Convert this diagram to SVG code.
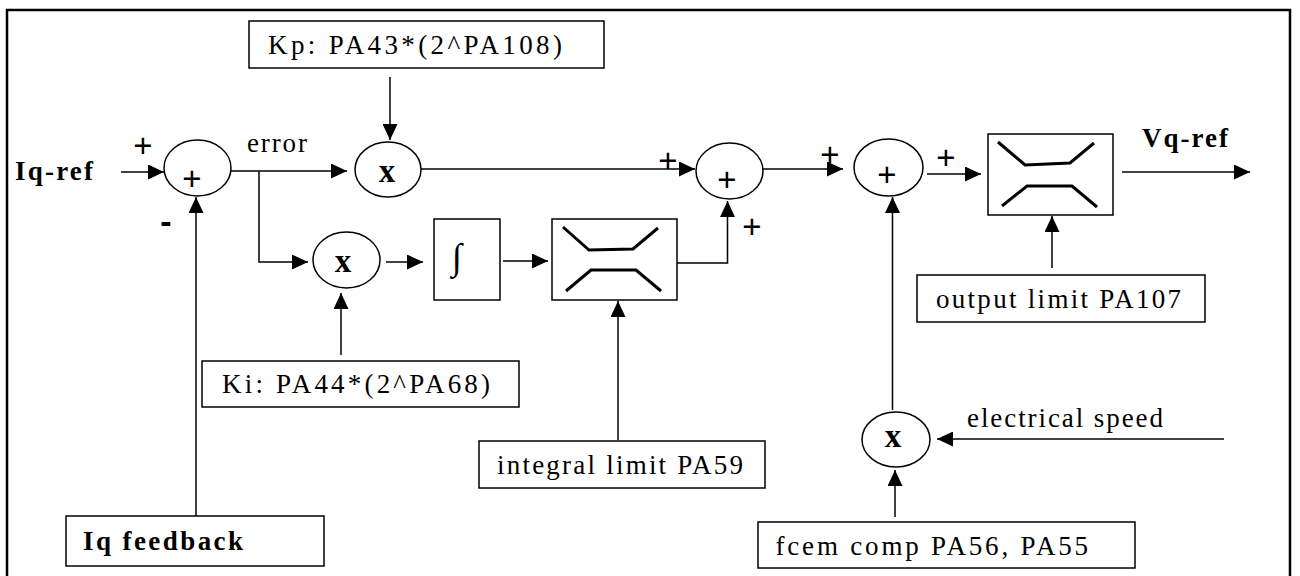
<svg xmlns="http://www.w3.org/2000/svg" width="1300" height="576" viewBox="0 0 1300 576">
<defs>
<marker id="ah" markerUnits="userSpaceOnUse" markerWidth="16" markerHeight="15" refX="16" refY="7.5" orient="auto"><path d="M0,0 L16,7.5 L0,15 z" fill="#000"/></marker>
</defs>
<style>
.ln{stroke:#000;stroke-width:1.5;fill:none}
.ar{marker-end:url(#ah)}
.box{fill:#fff;stroke:#000;stroke-width:1.5}
.el{fill:#fff;stroke:#000;stroke-width:1.5}
.t{font-family:"Liberation Serif","Times New Roman",serif;font-size:27px;fill:#000}
.b{font-weight:bold}
.pl{font-family:"Liberation Sans",Arial,sans-serif;font-size:33px;text-anchor:middle;fill:#000}
.mn{font-family:"Liberation Sans",Arial,sans-serif;font-size:34px;font-weight:bold;text-anchor:middle;fill:#000}
.x{font-family:"Liberation Serif","Times New Roman",serif;font-weight:bold;font-size:33px;text-anchor:middle;fill:#000}
.lim{stroke:#000;stroke-width:3;fill:none}
.frame{fill:none;stroke:#000;stroke-width:2.5}
</style>
<rect class="frame" x="7" y="10" width="1283" height="572"/>

<g id="connectors">
<line class="ln ar" x1="121" y1="172" x2="164" y2="172"/>
<line class="ln ar" x1="196" y1="516" x2="196" y2="197"/>
<line class="ln ar" x1="231" y1="171" x2="347" y2="171"/>
<polyline class="ln ar" points="259,171 259,262 308,262"/>
<line class="ln ar" x1="390" y1="77" x2="390" y2="140"/>
<line class="ln ar" x1="341" y1="355" x2="341" y2="293"/>
<line class="ln ar" x1="386" y1="262" x2="423" y2="262"/>
<line class="ln ar" x1="503" y1="261" x2="548" y2="261"/>
<line class="ln ar" x1="618" y1="440" x2="618" y2="301"/>
<polyline class="ln ar" points="677,263 727.5,263 727.5,201"/>
<line class="ln ar" x1="421" y1="169" x2="695" y2="169"/>
<line class="ln ar" x1="763" y1="169" x2="843" y2="169"/>
<line class="ln ar" x1="927" y1="174" x2="981" y2="174"/>
<line class="ln ar" x1="1122" y1="172" x2="1250" y2="172"/>
<line class="ln ar" x1="1052" y1="268" x2="1052" y2="216"/>
<line class="ln ar" x1="892.5" y1="410" x2="892.5" y2="197"/>
<line class="ln ar" x1="1224" y1="439" x2="937" y2="439"/>
<line class="ln ar" x1="895" y1="517" x2="895" y2="470"/>
</g>

<g id="labels">
<text class="t b" x="15" y="180" textLength="78" lengthAdjust="spacing">Iq-ref</text>
<text class="pl" x="143" y="157">+</text>
<text class="mn" x="166" y="233">-</text>
<text class="t" x="247" y="152" textLength="60" lengthAdjust="spacing">error</text>
<text class="pl" x="668" y="172">+</text>
<text class="pl" x="752" y="238">+</text>
<text class="pl" x="830" y="166">+</text>
<text class="pl" x="946" y="169">+</text>
<text class="t b" x="1142" y="147" textLength="86" lengthAdjust="spacing">Vq-ref</text>
<text class="t" x="967" y="427" textLength="196" lengthAdjust="spacing">electrical speed</text>
</g>

<g id="kp-box">
<rect class="box" x="249" y="21" width="355" height="47"/>
<text class="t" x="268" y="54" textLength="294" lengthAdjust="spacing">Kp:  PA43*(2^PA108)</text>
</g>

<g id="sum1">
<ellipse class="el" cx="197.5" cy="168" rx="33.5" ry="28"/>
<text class="pl" x="192" y="190">+</text>
</g>

<g id="mul-kp">
<ellipse class="el" cx="388" cy="169.5" rx="33" ry="27.5"/>
<text class="x" x="387" y="182">x</text>
</g>

<g id="mul-ki">
<ellipse class="el" cx="346.5" cy="260" rx="33.5" ry="28"/>
<text class="x" x="343" y="272">x</text>
</g>

<g id="integrator">
<rect class="box" x="434" y="219" width="66" height="81"/>
<text class="t" x="457" y="268.5" style="font-size:37px;text-anchor:middle">∫</text>
</g>

<g id="limiter1">
<rect class="box" x="552" y="219" width="125" height="81"/>
<polyline class="lim" points="563,227 589,250 633,249 658,228"/>
<polyline class="lim" points="566,291 591,270 636,270 661,291"/>
</g>

<g id="sum2">
<ellipse class="el" cx="729.5" cy="171" rx="33.5" ry="28"/>
<text class="pl" x="727" y="191">+</text>
</g>

<g id="sum3">
<ellipse class="el" cx="888.5" cy="167.5" rx="34.5" ry="28.5"/>
<text class="pl" x="887" y="186">+</text>
</g>

<g id="limiter2">
<rect class="box" x="988" y="134" width="125" height="81"/>
<polyline class="lim" points="998,142 1025,165 1070,163 1094,143"/>
<polyline class="lim" points="1002,206 1027,186 1072,186 1097,207"/>
</g>

<g id="output-limit">
<rect class="box" x="917" y="275" width="288" height="47"/>
<text class="t" x="936" y="308" textLength="245" lengthAdjust="spacing">output limit PA107</text>
</g>

<g id="mul-fcem">
<ellipse class="el" cx="896" cy="439.5" rx="34" ry="27.5"/>
<text class="x" x="893" y="447">x</text>
</g>

<g id="fcem-box">
<rect class="box" x="758" y="522" width="377" height="46"/>
<text class="t" x="775.5" y="555" textLength="312.5" lengthAdjust="spacing">fcem comp PA56, PA55</text>
</g>

<g id="integral-limit">
<rect class="box" x="479" y="441" width="286" height="47"/>
<text class="t" x="497" y="474" textLength="246" lengthAdjust="spacing">integral limit PA59</text>
</g>

<g id="ki-box">
<rect class="box" x="202" y="361" width="317" height="46"/>
<text class="t" x="222" y="393" textLength="268" lengthAdjust="spacing">Ki:  PA44*(2^PA68)</text>
</g>

<g id="iq-feedback">
<rect class="box" x="66" y="516" width="258" height="50"/>
<text class="t b" x="83" y="550" textLength="160" lengthAdjust="spacing">Iq feedback</text>
</g>
</svg>
